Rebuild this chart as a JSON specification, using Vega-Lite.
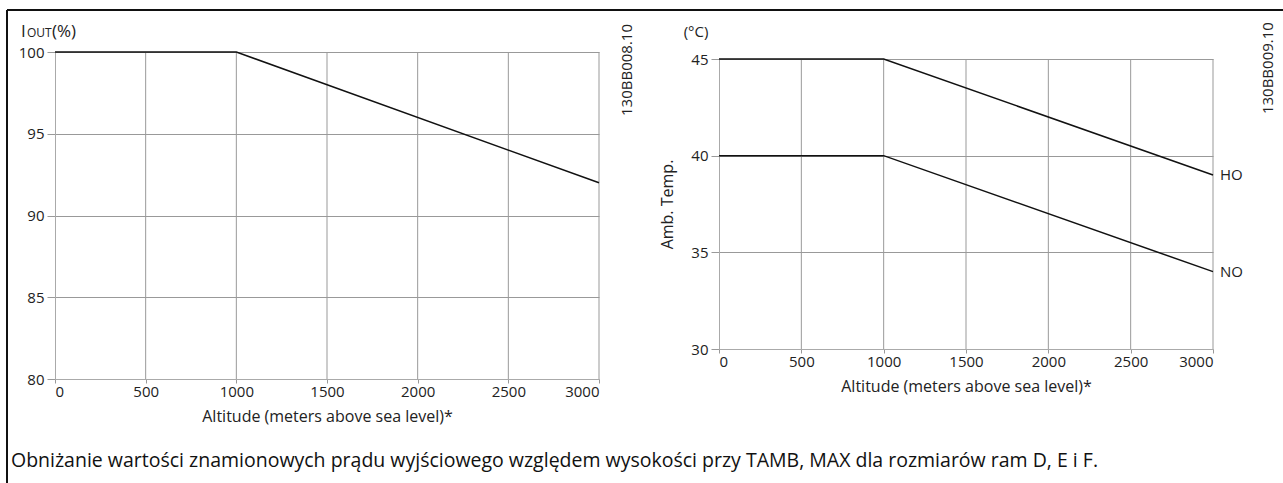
{
  "$schema": "https://vega.github.io/schema/vega-lite/v6.json",
  "width": 1276,
  "height": 473,
  "padding": {"left": 7, "top": 10, "right": 0, "bottom": 0},
  "autosize": {"type": "none"},
  "background": "white",
  "title": {
    "text": "Obniżanie wartości znamionowych prądu wyjściowego względem wysokości przy TAMB, MAX dla rozmiarów ram D, E i F.",
    "orient": "bottom",
    "anchor": "start",
    "frame": "group",
    "offset": -17,
    "baseline": "alphabetic",
    "dx": 4,
    "font": "Open Sans",
    "fontSize": 19.5,
    "fontWeight": "normal",
    "color": "#111"
  },
  "config": {
    "font": "Open Sans",
    "view": {"stroke": null},
    "axis": {
      "labelFont": "Open Sans",
      "labelFontSize": 15,
      "labelColor": "#222",
      "titleFont": "Open Sans",
      "titleFontSize": 16,
      "titleFontWeight": "normal",
      "titleColor": "#222",
      "domainColor": "#aaaaaa",
      "tickColor": "#999999",
      "gridColor": "#999999",
      "gridOpacity": 1,
      "tickSize": 7,
      "labelPadding": 3
    },
    "text": {"font": "Open Sans", "fontSize": 15, "color": "#222"}
  },
  "datasets": {
    "left": [
      {"alt": 0, "iout": 100},
      {"alt": 1000, "iout": 100},
      {"alt": 3000, "iout": 92}
    ],
    "right": [
      {"alt": 0, "temp": 45, "mode": "HO"},
      {"alt": 1000, "temp": 45, "mode": "HO"},
      {"alt": 3000, "temp": 39, "mode": "HO"},
      {"alt": 0, "temp": 40, "mode": "NO"},
      {"alt": 1000, "temp": 40, "mode": "NO"},
      {"alt": 3000, "temp": 34, "mode": "NO"}
    ],
    "xgrid": [
      {"g": 500}, {"g": 1000}, {"g": 1500}, {"g": 2000}, {"g": 2500}, {"g": 3000}
    ],
    "one": [{}]
  },
  "resolve": {
    "scale": {"x": "independent", "y": "independent"},
    "axis": {"x": "independent", "y": "independent"}
  },
  "layer": [
    {
      "data": {"name": "one"},
      "layer": [
        {
          "mark": {"type": "rule", "color": "#111", "strokeWidth": 2},
          "encoding": {"x": {"datum": 0, "type": "quantitative", "scale": {"domain": [0, 1]}, "axis": null}}
        },
        {
          "mark": {"type": "rule", "color": "#111", "strokeWidth": 2},
          "encoding": {"y": {"datum": 1, "type": "quantitative", "scale": {"domain": [0, 1]}, "axis": null}}
        }
      ]
    },
    {
      "data": {"name": "xgrid"},
      "mark": {"type": "rule", "color": "#999999", "strokeWidth": 1},
      "encoding": {
        "x": {"field": "g", "type": "quantitative", "scale": {"domain": [0, 3000], "range": [48, 592]}, "axis": null},
        "y": {"datum": 80, "type": "quantitative", "scale": {"domain": [80, 100], "range": [369, 42]}, "axis": null},
        "y2": {"datum": 100}
      }
    },
    {
      "data": {"name": "xgrid"},
      "mark": {"type": "rule", "color": "#999999", "strokeWidth": 1},
      "encoding": {
        "x": {"field": "g", "type": "quantitative", "scale": {"domain": [0, 3000], "range": [712, 1206]}, "axis": null},
        "y": {"datum": 30, "type": "quantitative", "scale": {"domain": [30, 45], "range": [339, 49]}, "axis": null},
        "y2": {"datum": 45}
      }
    },
    {
      "data": {"name": "left"},
      "encoding": {
        "x": {
          "field": "alt", "type": "quantitative",
          "scale": {"domain": [0, 3000], "range": [48, 592]},
          "axis": {"orient": "bottom", "offset": -104, "values": [0, 500, 1000, 1500, 2000, 2500, 3000], "format": "d", "grid": false, "title": "Altitude (meters above sea level)*", "titlePadding": 9, "tickSize": 4, "labelPadding": 1}
        },
        "y": {
          "field": "iout", "type": "quantitative",
          "scale": {"domain": [80, 100], "range": [369, 42]},
          "axis": {"orient": "left", "offset": -48, "values": [80, 85, 90, 95, 100], "grid": true, "title": null, "tickSize": 8}
        }
      },
      "layer": [
        {
          "mark": {"type": "line", "color": "#111", "strokeWidth": 1.5}
        },
        {
          "transform": [{"filter": "datum.alt === 0"}],
          "mark": {"type": "text", "align": "left", "baseline": "alphabetic", "dx": -34, "dy": -15, "fontSize": 17},
          "encoding": {"x": {"datum": 0, "type": "quantitative"}, "y": {"datum": 100, "type": "quantitative"}, "text": {"value": "I"}}
        },
        {
          "transform": [{"filter": "datum.alt === 0"}],
          "mark": {"type": "text", "align": "left", "baseline": "alphabetic", "dx": -28, "dy": -15, "fontSize": 12},
          "encoding": {"x": {"datum": 0, "type": "quantitative"}, "y": {"datum": 100, "type": "quantitative"}, "text": {"value": "OUT"}}
        },
        {
          "transform": [{"filter": "datum.alt === 0"}],
          "mark": {"type": "text", "align": "left", "baseline": "alphabetic", "dx": -3, "dy": -15, "fontSize": 17},
          "encoding": {"x": {"datum": 0, "type": "quantitative"}, "y": {"datum": 100, "type": "quantitative"}, "text": {"value": "(%)"}}
        },
        {
          "transform": [{"filter": "datum.alt === 0"}],
          "mark": {"type": "text", "align": "center", "baseline": "middle", "angle": 270, "fontSize": 15},
          "encoding": {"x": {"datum": 3154, "type": "quantitative"}, "y": {"datum": 98.9, "type": "quantitative"}, "text": {"value": "130BB008.10"}}
        }
      ]
    },
    {
      "data": {"name": "right"},
      "encoding": {
        "x": {
          "field": "alt", "type": "quantitative",
          "scale": {"domain": [0, 3000], "range": [712, 1206]},
          "axis": {"orient": "bottom", "offset": -134, "values": [0, 500, 1000, 1500, 2000, 2500, 3000], "format": "d", "grid": false, "title": "Altitude (meters above sea level)*", "titlePadding": 9, "tickSize": 4, "labelPadding": 1}
        },
        "y": {
          "field": "temp", "type": "quantitative",
          "scale": {"domain": [30, 45], "range": [339, 49]},
          "axis": {"orient": "left", "offset": -712, "values": [30, 35, 40, 45], "grid": true, "title": "Amb. Temp.", "titlePadding": 15, "tickSize": 8}
        }
      },
      "layer": [
        {
          "mark": {"type": "line", "color": "#111", "strokeWidth": 1.5},
          "encoding": {"detail": {"field": "mode"}}
        },
        {
          "transform": [{"filter": "datum.alt === 3000"}],
          "mark": {"type": "text", "align": "left", "baseline": "middle", "dx": 7, "fontSize": 15},
          "encoding": {"text": {"field": "mode"}}
        },
        {
          "transform": [{"filter": "datum.alt === 0 && datum.mode === 'HO'"}],
          "mark": {"type": "text", "align": "center", "baseline": "middle", "dx": -23, "dy": -27, "fontSize": 15},
          "encoding": {"x": {"datum": 0, "type": "quantitative"}, "y": {"datum": 45, "type": "quantitative"}, "text": {"value": "(°C)"}}
        },
        {
          "transform": [{"filter": "datum.alt === 0 && datum.mode === 'HO'"}],
          "mark": {"type": "text", "align": "center", "baseline": "middle", "angle": 270, "fontSize": 15},
          "encoding": {"x": {"datum": 3334, "type": "quantitative"}, "y": {"datum": 44.53, "type": "quantitative"}, "text": {"value": "130BB009.10"}}
        }
      ]
    }
  ]
}
